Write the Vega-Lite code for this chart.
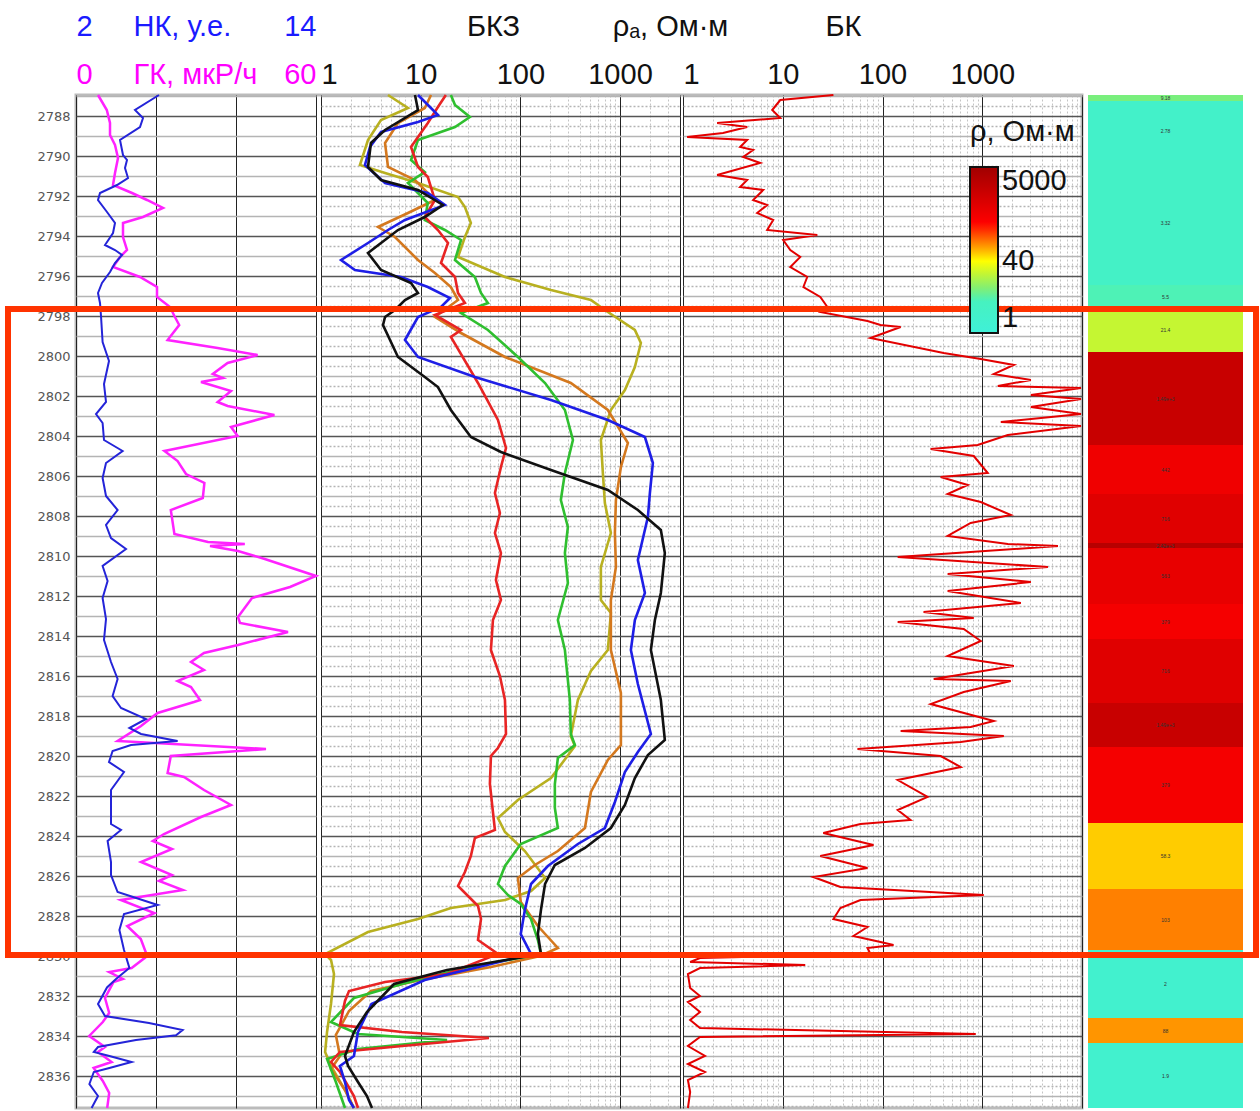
{
  "$schema": "https://vega.github.io/schema/vega-lite/v6.json",
  "autosize": {"type": "none"},
  "padding": {"left": 76, "top": 95, "right": 178, "bottom": 3},
  "width": 1006,
  "height": 1013,
  "config": {
    "font": "Liberation Sans",
    "view": {"stroke": "#bbbbbb", "strokeWidth": 3},
    "axis": {"labelFont": "Liberation Sans", "titleFont": "Liberation Sans", "titleFontWeight": "normal", "labelOverlap": false}
  },
  "datasets": {
    "nk": [
      {"depth": 2786.95, "nk": 6.15}, {"depth": 2787.7, "nk": 4.95}, {"depth": 2788.1, "nk": 5.35}, {"depth": 2788.55, "nk": 5.2},
      {"depth": 2789.2, "nk": 4.2}, {"depth": 2789.95, "nk": 4.35}, {"depth": 2790.2, "nk": 4.55}, {"depth": 2790.6, "nk": 4.45},
      {"depth": 2791.1, "nk": 4.6}, {"depth": 2791.45, "nk": 4.05}, {"depth": 2791.85, "nk": 3.2}, {"depth": 2792.2, "nk": 3.1},
      {"depth": 2792.8, "nk": 3.55}, {"depth": 2793.35, "nk": 3.95}, {"depth": 2793.85, "nk": 3.85}, {"depth": 2794.45, "nk": 3.45},
      {"depth": 2794.7, "nk": 3.95}, {"depth": 2794.95, "nk": 4.3}, {"depth": 2795.35, "nk": 3.95}, {"depth": 2795.8, "nk": 3.7},
      {"depth": 2796.35, "nk": 3.3}, {"depth": 2796.85, "nk": 3.1}, {"depth": 2797.35, "nk": 3.2}, {"depth": 2798.0, "nk": 3.25},
      {"depth": 2799.3, "nk": 3.33}, {"depth": 2800.25, "nk": 3.65}, {"depth": 2801.4, "nk": 3.4}, {"depth": 2802.3, "nk": 3.5},
      {"depth": 2802.9, "nk": 3.0}, {"depth": 2803.35, "nk": 3.33}, {"depth": 2804.2, "nk": 3.4}, {"depth": 2804.75, "nk": 4.33},
      {"depth": 2805.35, "nk": 3.5}, {"depth": 2806.1, "nk": 3.33}, {"depth": 2807.0, "nk": 3.5}, {"depth": 2807.7, "nk": 4.08},
      {"depth": 2808.45, "nk": 3.5}, {"depth": 2809.1, "nk": 3.75}, {"depth": 2809.65, "nk": 4.5}, {"depth": 2810.5, "nk": 3.33},
      {"depth": 2811.25, "nk": 3.58}, {"depth": 2812.1, "nk": 3.33}, {"depth": 2813.15, "nk": 3.5}, {"depth": 2814.2, "nk": 3.4},
      {"depth": 2815.3, "nk": 3.75}, {"depth": 2816.15, "nk": 4.08}, {"depth": 2817.0, "nk": 3.83}, {"depth": 2817.6, "nk": 4.25},
      {"depth": 2818.15, "nk": 5.5}, {"depth": 2818.6, "nk": 4.67}, {"depth": 2818.9, "nk": 5.25}, {"depth": 2819.25, "nk": 7.08},
      {"depth": 2819.45, "nk": 4.75}, {"depth": 2819.75, "nk": 3.83}, {"depth": 2820.3, "nk": 3.65}, {"depth": 2820.8, "nk": 4.4},
      {"depth": 2821.7, "nk": 3.75}, {"depth": 2822.75, "nk": 3.75}, {"depth": 2823.4, "nk": 3.75}, {"depth": 2823.7, "nk": 4.25},
      {"depth": 2824.25, "nk": 3.58}, {"depth": 2825.3, "nk": 3.75}, {"depth": 2825.95, "nk": 3.75}, {"depth": 2826.8, "nk": 4.08},
      {"depth": 2827.45, "nk": 6.08}, {"depth": 2827.9, "nk": 4.4}, {"depth": 2828.7, "nk": 4.17}, {"depth": 2829.7, "nk": 4.4},
      {"depth": 2830.6, "nk": 4.67}, {"depth": 2831.15, "nk": 4.0}, {"depth": 2831.57, "nk": 3.55}, {"depth": 2832.4, "nk": 3.1},
      {"depth": 2833.0, "nk": 3.45}, {"depth": 2833.35, "nk": 5.65}, {"depth": 2833.7, "nk": 7.33}, {"depth": 2833.96, "nk": 7.0},
      {"depth": 2834.2, "nk": 5.0}, {"depth": 2834.55, "nk": 3.1}, {"depth": 2834.8, "nk": 2.89}, {"depth": 2835.0, "nk": 3.67},
      {"depth": 2835.3, "nk": 4.78}, {"depth": 2835.6, "nk": 3.67}, {"depth": 2835.8, "nk": 2.89}, {"depth": 2836.4, "nk": 2.67},
      {"depth": 2837.0, "nk": 3.1}, {"depth": 2837.6, "nk": 2.78}
    ],
    "gk": [
      {"depth": 2786.95, "gk": 5.5}, {"depth": 2787.7, "gk": 7.7}, {"depth": 2788.35, "gk": 8.5}, {"depth": 2788.95, "gk": 8.5},
      {"depth": 2789.45, "gk": 9.75}, {"depth": 2790.1, "gk": 10.5}, {"depth": 2790.85, "gk": 9.75}, {"depth": 2791.45, "gk": 9.25},
      {"depth": 2791.85, "gk": 14}, {"depth": 2792.2, "gk": 17.75}, {"depth": 2792.6, "gk": 21.75}, {"depth": 2793.05, "gk": 16.75},
      {"depth": 2793.35, "gk": 11.75}, {"depth": 2794.05, "gk": 11.75}, {"depth": 2794.7, "gk": 12.75}, {"depth": 2795.05, "gk": 11},
      {"depth": 2795.55, "gk": 9.25}, {"depth": 2796.05, "gk": 16}, {"depth": 2796.55, "gk": 20.25}, {"depth": 2797.05, "gk": 20.25},
      {"depth": 2797.55, "gk": 23.5}, {"depth": 2798.0, "gk": 24.6}, {"depth": 2798.45, "gk": 25.8}, {"depth": 2799.2, "gk": 22.9},
      {"depth": 2799.6, "gk": 35.4}, {"depth": 2799.95, "gk": 45.4}, {"depth": 2800.35, "gk": 37.9}, {"depth": 2800.9, "gk": 34.2},
      {"depth": 2801.1, "gk": 36.7}, {"depth": 2801.3, "gk": 31.25}, {"depth": 2801.75, "gk": 38.75}, {"depth": 2802.3, "gk": 35.4},
      {"depth": 2802.5, "gk": 37.9}, {"depth": 2802.95, "gk": 49.6}, {"depth": 2803.55, "gk": 38.75}, {"depth": 2804.0, "gk": 40.4},
      {"depth": 2804.75, "gk": 22.1}, {"depth": 2805.25, "gk": 25.4}, {"depth": 2805.9, "gk": 27.5}, {"depth": 2806.35, "gk": 32.1},
      {"depth": 2807.1, "gk": 31.7}, {"depth": 2807.7, "gk": 23.7}, {"depth": 2808.9, "gk": 24.6}, {"depth": 2809.3, "gk": 33},
      {"depth": 2809.4, "gk": 42.2}, {"depth": 2809.5, "gk": 33.5}, {"depth": 2809.75, "gk": 40.5}, {"depth": 2810.15, "gk": 47.2},
      {"depth": 2811.0, "gk": 60}, {"depth": 2811.55, "gk": 53.5}, {"depth": 2812.1, "gk": 44}, {"depth": 2813.05, "gk": 40.5},
      {"depth": 2813.35, "gk": 41}, {"depth": 2813.8, "gk": 53}, {"depth": 2814.45, "gk": 40.5}, {"depth": 2814.85, "gk": 32},
      {"depth": 2815.3, "gk": 28.75}, {"depth": 2815.7, "gk": 32}, {"depth": 2816.25, "gk": 25.4}, {"depth": 2816.55, "gk": 28.75},
      {"depth": 2817.2, "gk": 31}, {"depth": 2817.3, "gk": 29.5}, {"depth": 2817.85, "gk": 20.4}, {"depth": 2818.5, "gk": 16.25},
      {"depth": 2819.25, "gk": 10.4}, {"depth": 2819.65, "gk": 47.5}, {"depth": 2820.0, "gk": 23.7}, {"depth": 2820.85, "gk": 22.9},
      {"depth": 2821.05, "gk": 27}, {"depth": 2821.7, "gk": 32}, {"depth": 2822.45, "gk": 38.75}, {"depth": 2823.05, "gk": 31.25},
      {"depth": 2823.9, "gk": 22}, {"depth": 2824.25, "gk": 19.2}, {"depth": 2824.65, "gk": 24}, {"depth": 2825.3, "gk": 16.25},
      {"depth": 2825.95, "gk": 24}, {"depth": 2826.25, "gk": 20.75}, {"depth": 2826.7, "gk": 26.7}, {"depth": 2827.2, "gk": 11.2},
      {"depth": 2827.85, "gk": 19.6}, {"depth": 2828.5, "gk": 12.8}, {"depth": 2829.15, "gk": 16.2}, {"depth": 2830.0, "gk": 17.8},
      {"depth": 2830.6, "gk": 13.9}, {"depth": 2830.8, "gk": 8.3}, {"depth": 2831.15, "gk": 11.7}, {"depth": 2831.3, "gk": 9.4},
      {"depth": 2832.1, "gk": 7.25}, {"depth": 2832.85, "gk": 8.3}, {"depth": 2833.3, "gk": 6.7}, {"depth": 2834.0, "gk": 3.3},
      {"depth": 2834.55, "gk": 7.25}, {"depth": 2834.8, "gk": 5.5}, {"depth": 2835.3, "gk": 8.9}, {"depth": 2835.6, "gk": 4.4},
      {"depth": 2836.25, "gk": 6.7}, {"depth": 2836.85, "gk": 8.3}, {"depth": 2837.6, "gk": 7.8}
    ],
    "bkz": [
      {"curve": "olive", "depth": 2786.95, "rho": 4.7}, {"curve": "olive", "depth": 2787.6, "rho": 7.46}, {"curve": "olive", "depth": 2788.2, "rho": 4.0},
      {"curve": "olive", "depth": 2789.2, "rho": 2.96}, {"curve": "olive", "depth": 2790.45, "rho": 2.46}, {"curve": "olive", "depth": 2790.85, "rho": 4.39},
      {"curve": "olive", "depth": 2791.35, "rho": 9.4}, {"curve": "olive", "depth": 2792.05, "rho": 23.7}, {"curve": "olive", "depth": 2792.55, "rho": 27.8},
      {"curve": "olive", "depth": 2793.35, "rho": 31.9}, {"curve": "olive", "depth": 2794.05, "rho": 27.8}, {"curve": "olive", "depth": 2795.05, "rho": 23.7},
      {"curve": "olive", "depth": 2796.05, "rho": 70.1}, {"curve": "olive", "depth": 2796.7, "rho": 203}, {"curve": "olive", "depth": 2797.2, "rho": 511},
      {"curve": "olive", "depth": 2797.7, "rho": 705}, {"curve": "olive", "depth": 2798.7, "rho": 1410}, {"curve": "olive", "depth": 2799.35, "rho": 1620},
      {"curve": "olive", "depth": 2800.55, "rho": 1410}, {"curve": "olive", "depth": 2801.7, "rho": 1120}, {"curve": "olive", "depth": 2802.7, "rho": 810},
      {"curve": "olive", "depth": 2804.2, "rho": 643}, {"curve": "olive", "depth": 2805.85, "rho": 673}, {"curve": "olive", "depth": 2807.35, "rho": 705},
      {"curve": "olive", "depth": 2808.85, "rho": 810}, {"curve": "olive", "depth": 2810.55, "rho": 643}, {"curve": "olive", "depth": 2812.2, "rho": 643},
      {"curve": "olive", "depth": 2812.85, "rho": 810}, {"curve": "olive", "depth": 2814.7, "rho": 755}, {"curve": "olive", "depth": 2815.75, "rho": 511},
      {"curve": "olive", "depth": 2817.2, "rho": 378}, {"curve": "olive", "depth": 2819.0, "rho": 321}, {"curve": "olive", "depth": 2819.5, "rho": 353},
      {"curve": "olive", "depth": 2821.1, "rho": 203}, {"curve": "olive", "depth": 2822.2, "rho": 94.6}, {"curve": "olive", "depth": 2823.1, "rho": 59.6},
      {"curve": "olive", "depth": 2823.8, "rho": 70.1}, {"curve": "olive", "depth": 2824.75, "rho": 111}, {"curve": "olive", "depth": 2826.1, "rho": 177},
      {"curve": "olive", "depth": 2826.75, "rho": 128}, {"curve": "olive", "depth": 2827.2, "rho": 70.1}, {"curve": "olive", "depth": 2827.6, "rho": 20.1},
      {"curve": "olive", "depth": 2828.15, "rho": 9.4}, {"curve": "olive", "depth": 2828.8, "rho": 2.96}, {"curve": "olive", "depth": 2829.9, "rho": 1.1},
      {"curve": "olive", "depth": 2830.2, "rho": 1.26}, {"curve": "olive", "depth": 2830.9, "rho": 1.35}, {"curve": "olive", "depth": 2832.4, "rho": 1.26},
      {"curve": "olive", "depth": 2833.8, "rho": 1.15}, {"curve": "olive", "depth": 2834.8, "rho": 1.1}, {"curve": "olive", "depth": 2835.5, "rho": 1.26},
      {"curve": "olive", "depth": 2836.7, "rho": 1.74}, {"curve": "olive", "depth": 2837.6, "rho": 2.14},

      {"curve": "orange", "depth": 2786.95, "rho": 12.7}, {"curve": "orange", "depth": 2787.6, "rho": 11.0}, {"curve": "orange", "depth": 2788.35, "rho": 5.92},
      {"curve": "orange", "depth": 2789.35, "rho": 4.39}, {"curve": "orange", "depth": 2790.55, "rho": 4.7}, {"curve": "orange", "depth": 2791.2, "rho": 8.77},
      {"curve": "orange", "depth": 2792.2, "rho": 13.9}, {"curve": "orange", "depth": 2792.85, "rho": 7.46}, {"curve": "orange", "depth": 2793.55, "rho": 3.73},
      {"curve": "orange", "depth": 2794.05, "rho": 5.52}, {"curve": "orange", "depth": 2795.2, "rho": 9.4}, {"curve": "orange", "depth": 2795.85, "rho": 13.9},
      {"curve": "orange", "depth": 2796.55, "rho": 20.1}, {"curve": "orange", "depth": 2797.2, "rho": 23.7}, {"curve": "orange", "depth": 2798.05, "rho": 13.9},
      {"curve": "orange", "depth": 2798.85, "rho": 25.4}, {"curve": "orange", "depth": 2800.05, "rho": 70.1}, {"curve": "orange", "depth": 2801.35, "rho": 321},
      {"curve": "orange", "depth": 2802.7, "rho": 755}, {"curve": "orange", "depth": 2804.35, "rho": 1200}, {"curve": "orange", "depth": 2805.55, "rho": 1021},
      {"curve": "orange", "depth": 2807.2, "rho": 910}, {"curve": "orange", "depth": 2808.85, "rho": 889}, {"curve": "orange", "depth": 2810.55, "rho": 910},
      {"curve": "orange", "depth": 2812.2, "rho": 810}, {"curve": "orange", "depth": 2814.7, "rho": 810}, {"curve": "orange", "depth": 2816.85, "rho": 1021},
      {"curve": "orange", "depth": 2819.45, "rho": 1021}, {"curve": "orange", "depth": 2820.2, "rho": 755}, {"curve": "orange", "depth": 2821.8, "rho": 511},
      {"curve": "orange", "depth": 2823.6, "rho": 445}, {"curve": "orange", "depth": 2824.75, "rho": 238}, {"curve": "orange", "depth": 2825.45, "rho": 140},
      {"curve": "orange", "depth": 2826.1, "rho": 94.6}, {"curve": "orange", "depth": 2827.3, "rho": 101}, {"curve": "orange", "depth": 2828.5, "rho": 150},
      {"curve": "orange", "depth": 2829.6, "rho": 238}, {"curve": "orange", "depth": 2830.0, "rho": 158}, {"curve": "orange", "depth": 2830.55, "rho": 50.7},
      {"curve": "orange", "depth": 2831.25, "rho": 8.97}, {"curve": "orange", "depth": 2831.75, "rho": 3.17}, {"curve": "orange", "depth": 2832.75, "rho": 1.91},
      {"curve": "orange", "depth": 2833.95, "rho": 1.41}, {"curve": "orange", "depth": 2835.0, "rho": 1.55}, {"curve": "orange", "depth": 2835.65, "rho": 1.26},
      {"curve": "orange", "depth": 2836.7, "rho": 1.74}, {"curve": "orange", "depth": 2837.6, "rho": 2.14},

      {"curve": "green", "depth": 2786.95, "rho": 20.1}, {"curve": "green", "depth": 2787.45, "rho": 22.1}, {"curve": "green", "depth": 2788.05, "rho": 31.2},
      {"curve": "green", "depth": 2788.55, "rho": 22.1}, {"curve": "green", "depth": 2789.2, "rho": 9.4}, {"curve": "green", "depth": 2790.2, "rho": 8.0},
      {"curve": "green", "depth": 2790.8, "rho": 11.0}, {"curve": "green", "depth": 2791.35, "rho": 7.46}, {"curve": "green", "depth": 2792.35, "rho": 11.8},
      {"curve": "green", "depth": 2793.2, "rho": 11.0}, {"curve": "green", "depth": 2793.7, "rho": 17.5}, {"curve": "green", "depth": 2794.2, "rho": 25.4},
      {"curve": "green", "depth": 2795.2, "rho": 22.1}, {"curve": "green", "depth": 2796.05, "rho": 35.0}, {"curve": "green", "depth": 2796.85, "rho": 40.3},
      {"curve": "green", "depth": 2797.35, "rho": 47.3}, {"curve": "green", "depth": 2797.85, "rho": 25.4}, {"curve": "green", "depth": 2798.7, "rho": 47.3},
      {"curve": "green", "depth": 2800.05, "rho": 94.6}, {"curve": "green", "depth": 2801.35, "rho": 177}, {"curve": "green", "depth": 2802.7, "rho": 280},
      {"curve": "green", "depth": 2804.2, "rho": 337}, {"curve": "green", "depth": 2805.85, "rho": 280}, {"curve": "green", "depth": 2807.2, "rho": 255},
      {"curve": "green", "depth": 2808.55, "rho": 300}, {"curve": "green", "depth": 2809.85, "rho": 280}, {"curve": "green", "depth": 2811.35, "rho": 300},
      {"curve": "green", "depth": 2813.2, "rho": 238}, {"curve": "green", "depth": 2814.7, "rho": 280}, {"curve": "green", "depth": 2817.2, "rho": 314},
      {"curve": "green", "depth": 2818.9, "rho": 321}, {"curve": "green", "depth": 2819.45, "rho": 353}, {"curve": "green", "depth": 2820.1, "rho": 238},
      {"curve": "green", "depth": 2821.4, "rho": 222}, {"curve": "green", "depth": 2822.6, "rho": 222}, {"curve": "green", "depth": 2823.6, "rho": 238},
      {"curve": "green", "depth": 2824.4, "rho": 101}, {"curve": "green", "depth": 2825.5, "rho": 70.1}, {"curve": "green", "depth": 2826.4, "rho": 59.6},
      {"curve": "green", "depth": 2826.95, "rho": 75.1}, {"curve": "green", "depth": 2827.4, "rho": 101}, {"curve": "green", "depth": 2828.15, "rho": 128},
      {"curve": "green", "depth": 2829.2, "rho": 150}, {"curve": "green", "depth": 2829.9, "rho": 161}, {"curve": "green", "depth": 2830.55, "rho": 30.5},
      {"curve": "green", "depth": 2831.4, "rho": 6.49}, {"curve": "green", "depth": 2832.1, "rho": 2.14}, {"curve": "green", "depth": 2833.3, "rho": 1.26},
      {"curve": "green", "depth": 2833.9, "rho": 2.35}, {"curve": "green", "depth": 2834.2, "rho": 18.4}, {"curve": "green", "depth": 2834.65, "rho": 2.35},
      {"curve": "green", "depth": 2835.15, "rho": 1.15}, {"curve": "green", "depth": 2836.3, "rho": 1.41}, {"curve": "green", "depth": 2837.6, "rho": 1.74},

      {"curve": "red", "depth": 2786.95, "rho": 17.9}, {"curve": "red", "depth": 2787.55, "rho": 14.9}, {"curve": "red", "depth": 2788.35, "rho": 11.8},
      {"curve": "red", "depth": 2789.55, "rho": 8.0}, {"curve": "red", "depth": 2790.55, "rho": 9.4}, {"curve": "red", "depth": 2791.05, "rho": 11.8},
      {"curve": "red", "depth": 2792.2, "rho": 13.9}, {"curve": "red", "depth": 2793.05, "rho": 11.0}, {"curve": "red", "depth": 2793.7, "rho": 14.9},
      {"curve": "red", "depth": 2794.35, "rho": 18.8}, {"curve": "red", "depth": 2795.35, "rho": 16.0}, {"curve": "red", "depth": 2796.05, "rho": 22.1},
      {"curve": "red", "depth": 2796.85, "rho": 23.7}, {"curve": "red", "depth": 2797.35, "rho": 27.8}, {"curve": "red", "depth": 2797.95, "rho": 13.9},
      {"curve": "red", "depth": 2798.7, "rho": 25.4}, {"curve": "red", "depth": 2799.05, "rho": 20.1}, {"curve": "red", "depth": 2801.35, "rho": 37.6},
      {"curve": "red", "depth": 2803.2, "rho": 59.6}, {"curve": "red", "depth": 2804.6, "rho": 71.8}, {"curve": "red", "depth": 2805.55, "rho": 63.9},
      {"curve": "red", "depth": 2806.85, "rho": 55.6}, {"curve": "red", "depth": 2807.85, "rho": 62.4}, {"curve": "red", "depth": 2808.85, "rho": 55.6},
      {"curve": "red", "depth": 2809.85, "rho": 63.9}, {"curve": "red", "depth": 2811.2, "rho": 56.9}, {"curve": "red", "depth": 2812.2, "rho": 63.9},
      {"curve": "red", "depth": 2813.2, "rho": 53.1}, {"curve": "red", "depth": 2814.7, "rho": 50.7}, {"curve": "red", "depth": 2816.0, "rho": 62.4},
      {"curve": "red", "depth": 2817.2, "rho": 70.1}, {"curve": "red", "depth": 2818.9, "rho": 71.8}, {"curve": "red", "depth": 2819.6, "rho": 59.6},
      {"curve": "red", "depth": 2820.0, "rho": 50.7}, {"curve": "red", "depth": 2821.4, "rho": 49.5}, {"curve": "red", "depth": 2822.8, "rho": 53.1},
      {"curve": "red", "depth": 2823.7, "rho": 55.6}, {"curve": "red", "depth": 2824.1, "rho": 35.0}, {"curve": "red", "depth": 2825.0, "rho": 31.9},
      {"curve": "red", "depth": 2825.8, "rho": 27.8}, {"curve": "red", "depth": 2826.5, "rho": 23.7}, {"curve": "red", "depth": 2827.5, "rho": 37.6},
      {"curve": "red", "depth": 2828.15, "rho": 40.3}, {"curve": "red", "depth": 2829.2, "rho": 37.6}, {"curve": "red", "depth": 2829.9, "rho": 59.6},
      {"curve": "red", "depth": 2830.9, "rho": 18.4}, {"curve": "red", "depth": 2831.3, "rho": 4.39}, {"curve": "red", "depth": 2831.75, "rho": 1.91},
      {"curve": "red", "depth": 2832.25, "rho": 1.74}, {"curve": "red", "depth": 2833.45, "rho": 1.55}, {"curve": "red", "depth": 2833.8, "rho": 6.49},
      {"curve": "red", "depth": 2834.1, "rho": 48.4}, {"curve": "red", "depth": 2834.5, "rho": 6.49}, {"curve": "red", "depth": 2834.8, "rho": 1.55},
      {"curve": "red", "depth": 2835.3, "rho": 1.26}, {"curve": "red", "depth": 2835.8, "rho": 1.55}, {"curve": "red", "depth": 2837.0, "rho": 2.14},
      {"curve": "red", "depth": 2837.6, "rho": 2.35},

      {"curve": "blue", "depth": 2786.95, "rho": 9.4}, {"curve": "blue", "depth": 2787.95, "rho": 14.9}, {"curve": "blue", "depth": 2788.3, "rho": 9.4},
      {"curve": "blue", "depth": 2788.8, "rho": 4.0}, {"curve": "blue", "depth": 2789.55, "rho": 3.1}, {"curve": "blue", "depth": 2790.45, "rho": 2.76},
      {"curve": "blue", "depth": 2791.35, "rho": 4.39}, {"curve": "blue", "depth": 2791.85, "rho": 11.8}, {"curve": "blue", "depth": 2792.45, "rho": 17.5},
      {"curve": "blue", "depth": 2793.2, "rho": 6.96}, {"curve": "blue", "depth": 2793.7, "rho": 4.7}, {"curve": "blue", "depth": 2794.35, "rho": 2.96},
      {"curve": "blue", "depth": 2795.2, "rho": 1.59}, {"curve": "blue", "depth": 2795.7, "rho": 2.19}, {"curve": "blue", "depth": 2796.05, "rho": 6.35},
      {"curve": "blue", "depth": 2796.55, "rho": 11.8}, {"curve": "blue", "depth": 2797.1, "rho": 19.7}, {"curve": "blue", "depth": 2797.55, "rho": 16.0},
      {"curve": "blue", "depth": 2798.05, "rho": 9.4}, {"curve": "blue", "depth": 2799.2, "rho": 6.96}, {"curve": "blue", "depth": 2800.05, "rho": 9.4},
      {"curve": "blue", "depth": 2801.05, "rho": 35.0}, {"curve": "blue", "depth": 2802.2, "rho": 203}, {"curve": "blue", "depth": 2803.2, "rho": 755},
      {"curve": "blue", "depth": 2804.05, "rho": 1778}, {"curve": "blue", "depth": 2805.35, "rho": 2138}, {"curve": "blue", "depth": 2806.85, "rho": 1995},
      {"curve": "blue", "depth": 2808.05, "rho": 1905}, {"curve": "blue", "depth": 2810.2, "rho": 1511}, {"curve": "blue", "depth": 2811.85, "rho": 1778},
      {"curve": "blue", "depth": 2813.2, "rho": 1410}, {"curve": "blue", "depth": 2814.7, "rho": 1286}, {"curve": "blue", "depth": 2816.4, "rho": 1511},
      {"curve": "blue", "depth": 2818.9, "rho": 2042}, {"curve": "blue", "depth": 2819.8, "rho": 1511}, {"curve": "blue", "depth": 2820.8, "rho": 1120},
      {"curve": "blue", "depth": 2822.3, "rho": 889}, {"curve": "blue", "depth": 2823.6, "rho": 705}, {"curve": "blue", "depth": 2824.4, "rho": 378},
      {"curve": "blue", "depth": 2825.5, "rho": 189}, {"curve": "blue", "depth": 2826.4, "rho": 128}, {"curve": "blue", "depth": 2827.7, "rho": 111},
      {"curve": "blue", "depth": 2828.9, "rho": 101}, {"curve": "blue", "depth": 2829.9, "rho": 128}, {"curve": "blue", "depth": 2830.4, "rho": 50.7},
      {"curve": "blue", "depth": 2831.2, "rho": 11.0}, {"curve": "blue", "depth": 2832.4, "rho": 3.21}, {"curve": "blue", "depth": 2833.8, "rho": 2.35},
      {"curve": "blue", "depth": 2835.0, "rho": 2.14}, {"curve": "blue", "depth": 2835.5, "rho": 1.55}, {"curve": "blue", "depth": 2836.3, "rho": 1.74},
      {"curve": "blue", "depth": 2837.2, "rho": 1.91}, {"curve": "blue", "depth": 2837.6, "rho": 2.14},

      {"curve": "black", "depth": 2786.95, "rho": 8.77}, {"curve": "black", "depth": 2787.7, "rho": 9.4}, {"curve": "black", "depth": 2788.7, "rho": 4.39},
      {"curve": "black", "depth": 2789.35, "rho": 3.17}, {"curve": "black", "depth": 2790.55, "rho": 2.96}, {"curve": "black", "depth": 2791.2, "rho": 4.0},
      {"curve": "black", "depth": 2791.7, "rho": 9.4}, {"curve": "black", "depth": 2792.45, "rho": 16.7}, {"curve": "black", "depth": 2793.05, "rho": 11.0},
      {"curve": "black", "depth": 2793.7, "rho": 5.92}, {"curve": "black", "depth": 2794.85, "rho": 2.96}, {"curve": "black", "depth": 2795.7, "rho": 4.0},
      {"curve": "black", "depth": 2796.35, "rho": 8.0}, {"curve": "black", "depth": 2796.85, "rho": 9.4}, {"curve": "black", "depth": 2797.2, "rho": 6.96},
      {"curve": "black", "depth": 2797.7, "rho": 5.52}, {"curve": "black", "depth": 2798.05, "rho": 4.39}, {"curve": "black", "depth": 2798.45, "rho": 4.19},
      {"curve": "black", "depth": 2800.05, "rho": 5.92}, {"curve": "black", "depth": 2801.05, "rho": 11.0}, {"curve": "black", "depth": 2801.55, "rho": 14.9},
      {"curve": "black", "depth": 2802.7, "rho": 20.1}, {"curve": "black", "depth": 2804.05, "rho": 31.9}, {"curve": "black", "depth": 2804.8, "rho": 63.9},
      {"curve": "black", "depth": 2805.7, "rho": 203}, {"curve": "black", "depth": 2806.7, "rho": 755}, {"curve": "black", "depth": 2807.7, "rho": 1511},
      {"curve": "black", "depth": 2808.7, "rho": 2570}, {"curve": "black", "depth": 2809.85, "rho": 2818}, {"curve": "black", "depth": 2811.85, "rho": 2570},
      {"curve": "black", "depth": 2813.2, "rho": 2239}, {"curve": "black", "depth": 2814.7, "rho": 2042}, {"curve": "black", "depth": 2817.2, "rho": 2570},
      {"curve": "black", "depth": 2819.2, "rho": 2818}, {"curve": "black", "depth": 2819.95, "rho": 1905}, {"curve": "black", "depth": 2821.1, "rho": 1410},
      {"curve": "black", "depth": 2822.45, "rho": 1120}, {"curve": "black", "depth": 2823.6, "rho": 810}, {"curve": "black", "depth": 2824.6, "rho": 445},
      {"curve": "black", "depth": 2825.45, "rho": 222}, {"curve": "black", "depth": 2826.4, "rho": 177}, {"curve": "black", "depth": 2827.7, "rho": 161},
      {"curve": "black", "depth": 2828.9, "rho": 150}, {"curve": "black", "depth": 2829.9, "rho": 161}, {"curve": "black", "depth": 2830.7, "rho": 18.4},
      {"curve": "black", "depth": 2831.4, "rho": 5.4}, {"curve": "black", "depth": 2832.8, "rho": 2.89}, {"curve": "black", "depth": 2833.8, "rho": 2.14},
      {"curve": "black", "depth": 2835.0, "rho": 1.74}, {"curve": "black", "depth": 2835.5, "rho": 1.87}, {"curve": "black", "depth": 2836.3, "rho": 2.35},
      {"curve": "black", "depth": 2837.0, "rho": 2.89}, {"curve": "black", "depth": 2837.6, "rho": 3.25}
    ],
    "bk": [
      {"depth": 2786.95, "rho": 32.2}, {"depth": 2787.2, "rho": 9.44}, {"depth": 2787.7, "rho": 7.84}, {"depth": 2788.1, "rho": 9.44},
      {"depth": 2788.35, "rho": 2.2}, {"depth": 2788.55, "rho": 4.4}, {"depth": 2788.85, "rho": 2.52}, {"depth": 2789.05, "rho": 1.1},
      {"depth": 2789.2, "rho": 4.4}, {"depth": 2789.55, "rho": 3.74}, {"depth": 2789.7, "rho": 5.05}, {"depth": 2790.05, "rho": 4.01},
      {"depth": 2790.35, "rho": 5.94}, {"depth": 2790.95, "rho": 2.2}, {"depth": 2791.2, "rho": 4.4}, {"depth": 2791.55, "rho": 3.74},
      {"depth": 2791.7, "rho": 6.37}, {"depth": 2792.2, "rho": 5.05}, {"depth": 2792.45, "rho": 6.98}, {"depth": 2792.85, "rho": 5.54},
      {"depth": 2793.2, "rho": 8.03}, {"depth": 2793.7, "rho": 6.98}, {"depth": 2793.95, "rho": 22.2}, {"depth": 2794.2, "rho": 10.1},
      {"depth": 2794.7, "rho": 11.9}, {"depth": 2795.05, "rho": 15.0}, {"depth": 2795.55, "rho": 11.9}, {"depth": 2796.05, "rho": 17.6},
      {"depth": 2796.55, "rho": 16.1}, {"depth": 2797.05, "rho": 23.8}, {"depth": 2797.55, "rho": 28.0}, {"depth": 2797.8, "rho": 23.8},
      {"depth": 2798.25, "rho": 70.7}, {"depth": 2798.45, "rho": 95.5}, {"depth": 2798.55, "rho": 152}, {"depth": 2799.1, "rho": 75.7},
      {"depth": 2799.85, "rho": 410}, {"depth": 2800.15, "rho": 966}, {"depth": 2800.45, "rho": 2073}, {"depth": 2800.9, "rho": 1306},
      {"depth": 2801.2, "rho": 3071}, {"depth": 2801.5, "rho": 1432}, {"depth": 2801.6, "rho": 9770}, {"depth": 2801.95, "rho": 3071},
      {"depth": 2802.15, "rho": 9770}, {"depth": 2802.55, "rho": 3071}, {"depth": 2802.9, "rho": 9770}, {"depth": 2803.3, "rho": 1535},
      {"depth": 2803.5, "rho": 9770}, {"depth": 2803.95, "rho": 1803}, {"depth": 2804.45, "rho": 901}, {"depth": 2804.65, "rho": 304},
      {"depth": 2805.0, "rho": 822}, {"depth": 2805.85, "rho": 1135}, {"depth": 2806.05, "rho": 383}, {"depth": 2806.45, "rho": 715},
      {"depth": 2806.9, "rho": 450}, {"depth": 2807.3, "rho": 966}, {"depth": 2807.95, "rho": 1932}, {"depth": 2808.35, "rho": 766},
      {"depth": 2809.0, "rho": 450}, {"depth": 2809.4, "rho": 1803}, {"depth": 2809.5, "rho": 5740}, {"depth": 2810.05, "rho": 142},
      {"depth": 2810.55, "rho": 4550}, {"depth": 2810.9, "rho": 450}, {"depth": 2811.3, "rho": 3071}, {"depth": 2811.75, "rho": 450},
      {"depth": 2812.35, "rho": 2437}, {"depth": 2812.8, "rho": 258}, {"depth": 2813.1, "rho": 822}, {"depth": 2813.3, "rho": 142},
      {"depth": 2813.65, "rho": 652}, {"depth": 2814.25, "rho": 966}, {"depth": 2815.0, "rho": 450}, {"depth": 2815.5, "rho": 2073},
      {"depth": 2816.15, "rho": 326}, {"depth": 2816.25, "rho": 1932}, {"depth": 2816.8, "rho": 652}, {"depth": 2817.4, "rho": 304},
      {"depth": 2818.25, "rho": 1306}, {"depth": 2818.55, "rho": 766}, {"depth": 2818.75, "rho": 152}, {"depth": 2819.0, "rho": 1644},
      {"depth": 2819.3, "rho": 608}, {"depth": 2819.65, "rho": 56.1}, {"depth": 2820.0, "rho": 383}, {"depth": 2820.55, "rho": 608},
      {"depth": 2821.2, "rho": 142}, {"depth": 2822.05, "rho": 283}, {"depth": 2822.7, "rho": 142}, {"depth": 2823.2, "rho": 191},
      {"depth": 2823.4, "rho": 60.1}, {"depth": 2823.85, "rho": 25.5}, {"depth": 2824.45, "rho": 81.2}, {"depth": 2825.0, "rho": 23.8},
      {"depth": 2825.6, "rho": 70.7}, {"depth": 2826.05, "rho": 20.3}, {"depth": 2826.55, "rho": 37.8}, {"depth": 2826.95, "rho": 1035},
      {"depth": 2827.2, "rho": 60.1}, {"depth": 2827.6, "rho": 37.8}, {"depth": 2828.15, "rho": 32.2}, {"depth": 2828.55, "rho": 70.7},
      {"depth": 2829.0, "rho": 51.1}, {"depth": 2829.3, "rho": 95.5}, {"depth": 2829.45, "rho": 129}, {"depth": 2829.6, "rho": 70.7},
      {"depth": 2829.9, "rho": 75.7}, {"depth": 2830.1, "rho": 1.48}, {"depth": 2830.3, "rho": 1.18}, {"depth": 2830.45, "rho": 16.8},
      {"depth": 2830.6, "rho": 1.48}, {"depth": 2830.9, "rho": 1.12}, {"depth": 2831.6, "rho": 1.18}, {"depth": 2832.0, "rho": 1.48},
      {"depth": 2832.3, "rho": 1.12}, {"depth": 2832.8, "rho": 1.48}, {"depth": 2833.2, "rho": 1.18}, {"depth": 2833.6, "rho": 1.48},
      {"depth": 2833.9, "rho": 861}, {"depth": 2834.05, "rho": 1.48}, {"depth": 2834.5, "rho": 1.12}, {"depth": 2835.0, "rho": 1.66},
      {"depth": 2835.4, "rho": 1.12}, {"depth": 2835.8, "rho": 1.66}, {"depth": 2836.2, "rho": 1.12}, {"depth": 2836.8, "rho": 1.18},
      {"depth": 2837.6, "rho": 1.12}
    ],
    "blocks": [
      {"top": 2786.95, "bottom": 2787.25, "rho": 9.18},
      {"top": 2787.25, "bottom": 2790.2, "rho": 2.78},
      {"top": 2790.2, "bottom": 2796.45, "rho": 3.32},
      {"top": 2796.45, "bottom": 2797.6, "rho": 5.5},
      {"top": 2797.6, "bottom": 2799.8, "rho": 21.4},
      {"top": 2799.8, "bottom": 2804.45, "rho": 1490},
      {"top": 2804.45, "bottom": 2806.9, "rho": 442},
      {"top": 2806.9, "bottom": 2809.35, "rho": 716},
      {"top": 2809.35, "bottom": 2809.6, "rho": 2415},
      {"top": 2809.6, "bottom": 2812.4, "rho": 563},
      {"top": 2812.4, "bottom": 2814.15, "rho": 379},
      {"top": 2814.15, "bottom": 2817.35, "rho": 716},
      {"top": 2817.35, "bottom": 2819.55, "rho": 1490},
      {"top": 2819.55, "bottom": 2823.35, "rho": 379},
      {"top": 2823.35, "bottom": 2826.65, "rho": 58.3},
      {"top": 2826.65, "bottom": 2829.7, "rho": 103},
      {"top": 2829.7, "bottom": 2833.1, "rho": 2.0},
      {"top": 2833.1, "bottom": 2834.35, "rho": 88},
      {"top": 2834.35, "bottom": 2837.6, "rho": 1.9}
    ],
    "box": [
      {"top": 2797.65, "bottom": 2829.95}
    ]
  },
  "resolve": {"scale": {"x": "independent", "color": "independent"}, "axis": {"x": "independent", "y": "independent"}},
  "layer": [
    {
      "data": {"name": "blocks"},
      "mark": {"type": "rect"},
      "encoding": {
        "x": {"datum": 0, "type": "quantitative", "scale": {"domain": [0, 1], "range": [1012, 1167]},
          "axis": {"orient": "top", "labels": false, "ticks": false, "domain": false, "grid": false,
            "title": "ρₐ, Ом·м", "titleFontSize": 29, "titleColor": "#111111", "titleX": 594, "titleY": -60,
            "titleAlign": "center", "titleBaseline": "alphabetic"}},
        "x2": {"datum": 1},
        "y": {"field": "top", "type": "quantitative", "scale": {"domain": [2786.95, 2837.6], "reverse": true, "nice": false, "zero": false}, "axis": null},
        "y2": {"field": "bottom"},
        "color": {"field": "rho", "type": "quantitative",
          "scale": {"type": "log", "domain": [1, 5, 12, 40, 85, 280, 5000],
            "range": ["#3ff0d8", "#46f2c0", "#90ee60", "#ffff00", "#ff9900", "#ff0000", "#a00000"], "interpolate": "rgb"},
          "legend": {"orient": "none", "legendX": 894, "legendY": 23, "direction": "vertical", "padding": 0,
            "title": "ρ, Ом·м", "titleFontSize": 29, "titleFontWeight": "normal", "titleColor": "#111111", "titlePadding": 20,
            "titleFont": "Liberation Sans", "labelFont": "Liberation Sans", "labelBaseline": "middle",
            "gradientLength": 166, "gradientThickness": 28, "gradientStrokeColor": "#111111", "gradientStrokeWidth": 2,
            "values": [1, 40, 5000], "format": "d", "labelFontSize": 29, "labelColor": "#111111", "labelOffset": 4}}
      }
    },
    {
      "data": {"name": "blocks"},
      "transform": [{"calculate": "(datum.top + datum.bottom) / 2", "as": "mid"}],
      "mark": {"type": "text", "fontSize": 5, "color": "#333333"},
      "encoding": {
        "x": {"datum": 0.5, "type": "quantitative", "scale": {"domain": [0, 1], "range": [1012, 1167]}, "axis": null},
        "y": {"field": "mid", "type": "quantitative", "axis": null},
        "text": {"field": "rho", "type": "quantitative", "format": ".3~g"}
      }
    },
    {
      "data": {"name": "gk"},
      "mark": {"type": "line", "color": "#ff22ff", "strokeWidth": 2.5},
      "encoding": {
        "x": {"field": "gk", "type": "quantitative", "scale": {"domain": [0, 60], "range": [0, 240], "nice": false, "zero": false},
          "axis": {"orient": "top", "offset": 0, "values": [0, 20, 40, 60], "labelFlush": true, "ticks": false, "tickSize": 0, "domain": false,
            "labelExpr": "datum.value == 0 || datum.value == 60 ? datum.label : ''",
            "labelFontSize": 29, "labelColor": "#ff00ff", "labelPadding": 12, "labelBaseline": "alphabetic",
            "grid": true, "gridColor": "#222222", "gridWidth": 1,
            "title": "ГК, мкР/ч", "titleFontSize": 29, "titleColor": "#ff00ff", "titleX": 57, "titleY": -12,
            "titleAlign": "left", "titleBaseline": "alphabetic"}},
        "y": {"field": "depth", "type": "quantitative",
          "axis": {"orient": "left", "title": null, "domain": false, "ticks": false, "tickSize": 0,
            "labelPadding": 6, "labelFont": "DejaVu Sans", "labelFontSize": 13, "labelColor": "#555555", "format": "d",
            "values": [2787,2787.5,2788,2788.5,2789,2789.5,2790,2790.5,2791,2791.5,2792,2792.5,2793,2793.5,2794,2794.5,2795,2795.5,2796,2796.5,2797,2797.5,2798,2798.5,2799,2799.5,2800,2800.5,2801,2801.5,2802,2802.5,2803,2803.5,2804,2804.5,2805,2805.5,2806,2806.5,2807,2807.5,2808,2808.5,2809,2809.5,2810,2810.5,2811,2811.5,2812,2812.5,2813,2813.5,2814,2814.5,2815,2815.5,2816,2816.5,2817,2817.5,2818,2818.5,2819,2819.5,2820,2820.5,2821,2821.5,2822,2822.5,2823,2823.5,2824,2824.5,2825,2825.5,2826,2826.5,2827,2827.5,2828,2828.5,2829,2829.5,2830,2830.5,2831,2831.5,2832,2832.5,2833,2833.5,2834,2834.5,2835,2835.5,2836,2836.5,2837,2837.5],
            "labelExpr": "datum.value % 2 === 0 ? datum.label : ''",
            "grid": true, "gridWidth": 1.3,
            "gridColor": {"condition": {"test": "datum.value % 2 === 0", "value": "#555555"}, "value": "#b4b4b4"},
            "gridDash": {"condition": {"test": "datum.value % 1 !== 0", "value": [2, 2]}, "value": []}}},
        "order": {"field": "depth", "type": "quantitative"}
      }
    },
    {
      "data": {"name": "nk"},
      "mark": {"type": "line", "color": "#2424d8", "strokeWidth": 2},
      "encoding": {
        "x": {"field": "nk", "type": "quantitative", "scale": {"domain": [2, 14], "range": [0, 240], "nice": false, "zero": false},
          "axis": {"orient": "top", "offset": 48, "values": [2, 14], "labelFlush": true, "ticks": false, "tickSize": 0, "domain": false, "grid": false,
            "labelFontSize": 29, "labelColor": "#1a1aff", "labelPadding": 12, "labelBaseline": "alphabetic",
            "title": "НК, у.е.", "titleFontSize": 29, "titleColor": "#1a1aff", "titleX": 57, "titleY": -12,
            "titleAlign": "left", "titleBaseline": "alphabetic"}},
        "y": {"field": "depth", "type": "quantitative", "axis": null},
        "order": {"field": "depth", "type": "quantitative"}
      }
    },
    {
      "data": {"name": "bkz"},
      "mark": {"type": "line", "strokeWidth": 2.6},
      "encoding": {
        "x": {"field": "rho", "type": "quantitative", "scale": {"type": "log", "domain": [1, 4000], "range": [245, 604], "nice": false},
          "axis": {"orient": "top", "offset": 0, "ticks": false, "tickSize": 0, "domain": false, "labelFlush": true, "format": "d",
            "values": [1,2,3,4,5,6,7,8,9,10,20,30,40,50,60,70,80,90,100,200,300,400,500,600,700,800,900,1000,2000,3000,4000],
            "labelExpr": "indexof([1,10,100,1000], datum.value) >= 0 ? datum.label : ''",
            "labelFontSize": 29, "labelColor": "#111111", "labelPadding": 12, "labelBaseline": "alphabetic",
            "grid": true,
            "gridColor": {"condition": {"test": "indexof([1,10,100,1000,4000], datum.value) >= 0", "value": "#222222"}, "value": "#c4c4c4"},
            "gridDash": {"condition": {"test": "indexof([1,10,100,1000,4000], datum.value) >= 0", "value": []}, "value": [2, 2]},
            "title": "БКЗ", "titleFontSize": 29, "titleColor": "#111111", "titleX": 417, "titleY": -60,
            "titleAlign": "center", "titleBaseline": "alphabetic"}},
        "y": {"field": "depth", "type": "quantitative",
          "axis": {"orient": "left", "title": null, "labels": false, "domain": false, "ticks": false, "tickSize": 0,
            "values": [2787,2787.5,2788,2788.5,2789,2789.5,2790,2790.5,2791,2791.5,2792,2792.5,2793,2793.5,2794,2794.5,2795,2795.5,2796,2796.5,2797,2797.5,2798,2798.5,2799,2799.5,2800,2800.5,2801,2801.5,2802,2802.5,2803,2803.5,2804,2804.5,2805,2805.5,2806,2806.5,2807,2807.5,2808,2808.5,2809,2809.5,2810,2810.5,2811,2811.5,2812,2812.5,2813,2813.5,2814,2814.5,2815,2815.5,2816,2816.5,2817,2817.5,2818,2818.5,2819,2819.5,2820,2820.5,2821,2821.5,2822,2822.5,2823,2823.5,2824,2824.5,2825,2825.5,2826,2826.5,2827,2827.5,2828,2828.5,2829,2829.5,2830,2830.5,2831,2831.5,2832,2832.5,2833,2833.5,2834,2834.5,2835,2835.5,2836,2836.5,2837,2837.5],
            "grid": true, "gridWidth": 1.3,
            "gridColor": {"condition": {"test": "datum.value % 2 === 0", "value": "#555555"}, "value": "#b4b4b4"},
            "gridDash": {"condition": {"test": "datum.value % 1 !== 0", "value": [2, 2]}, "value": []}}},
        "color": {"field": "curve", "type": "nominal",
          "scale": {"domain": ["olive", "orange", "green", "red", "blue", "black"],
            "range": ["#b8b020", "#d4781e", "#2fbf2f", "#e82424", "#1e1ee6", "#111111"]},
          "legend": null},
        "order": {"field": "depth", "type": "quantitative"}
      }
    },
    {
      "data": {"name": "bk"},
      "mark": {"type": "line", "color": "#e30000", "strokeWidth": 2},
      "encoding": {
        "x": {"field": "rho", "type": "quantitative", "scale": {"type": "log", "domain": [1, 10000], "range": [607, 1006], "nice": false},
          "axis": {"orient": "top", "offset": 0, "ticks": false, "tickSize": 0, "domain": false, "labelFlush": true, "format": "d",
            "values": [1,2,3,4,5,6,7,8,9,10,20,30,40,50,60,70,80,90,100,200,300,400,500,600,700,800,900,1000,2000,3000,4000,5000,6000,7000,8000,9000,10000],
            "labelExpr": "indexof([1,10,100,1000], datum.value) >= 0 ? datum.label : ''",
            "labelFontSize": 29, "labelColor": "#111111", "labelPadding": 12, "labelBaseline": "alphabetic",
            "grid": true,
            "gridColor": {"condition": {"test": "indexof([1,10,100,1000,10000], datum.value) >= 0", "value": "#222222"}, "value": "#c4c4c4"},
            "gridDash": {"condition": {"test": "indexof([1,10,100,1000,10000], datum.value) >= 0", "value": []}, "value": [2, 2]},
            "title": "БК", "titleFontSize": 29, "titleColor": "#111111", "titleX": 767, "titleY": -60,
            "titleAlign": "center", "titleBaseline": "alphabetic"}},
        "y": {"field": "depth", "type": "quantitative",
          "axis": {"orient": "left", "title": null, "labels": false, "domain": false, "ticks": false, "tickSize": 0,
            "values": [2787,2787.5,2788,2788.5,2789,2789.5,2790,2790.5,2791,2791.5,2792,2792.5,2793,2793.5,2794,2794.5,2795,2795.5,2796,2796.5,2797,2797.5,2798,2798.5,2799,2799.5,2800,2800.5,2801,2801.5,2802,2802.5,2803,2803.5,2804,2804.5,2805,2805.5,2806,2806.5,2807,2807.5,2808,2808.5,2809,2809.5,2810,2810.5,2811,2811.5,2812,2812.5,2813,2813.5,2814,2814.5,2815,2815.5,2816,2816.5,2817,2817.5,2818,2818.5,2819,2819.5,2820,2820.5,2821,2821.5,2822,2822.5,2823,2823.5,2824,2824.5,2825,2825.5,2826,2826.5,2827,2827.5,2828,2828.5,2829,2829.5,2830,2830.5,2831,2831.5,2832,2832.5,2833,2833.5,2834,2834.5,2835,2835.5,2836,2836.5,2837,2837.5],
            "grid": true, "gridWidth": 1.3,
            "gridColor": {"condition": {"test": "datum.value % 2 === 0", "value": "#555555"}, "value": "#b4b4b4"},
            "gridDash": {"condition": {"test": "datum.value % 1 !== 0", "value": [2, 2]}, "value": []}}},
        "order": {"field": "depth", "type": "quantitative"}
      }
    },
    {
      "data": {"name": "box"},
      "mark": {"type": "rect", "filled": false, "stroke": "#ff3300", "strokeWidth": 6},
      "encoding": {
        "x": {"datum": 0, "type": "quantitative", "scale": {"domain": [0, 1], "range": [-68, 1180]}, "axis": null},
        "x2": {"datum": 1},
        "y": {"field": "top", "type": "quantitative", "axis": null},
        "y2": {"field": "bottom"}
      }
    }
  ]
}
